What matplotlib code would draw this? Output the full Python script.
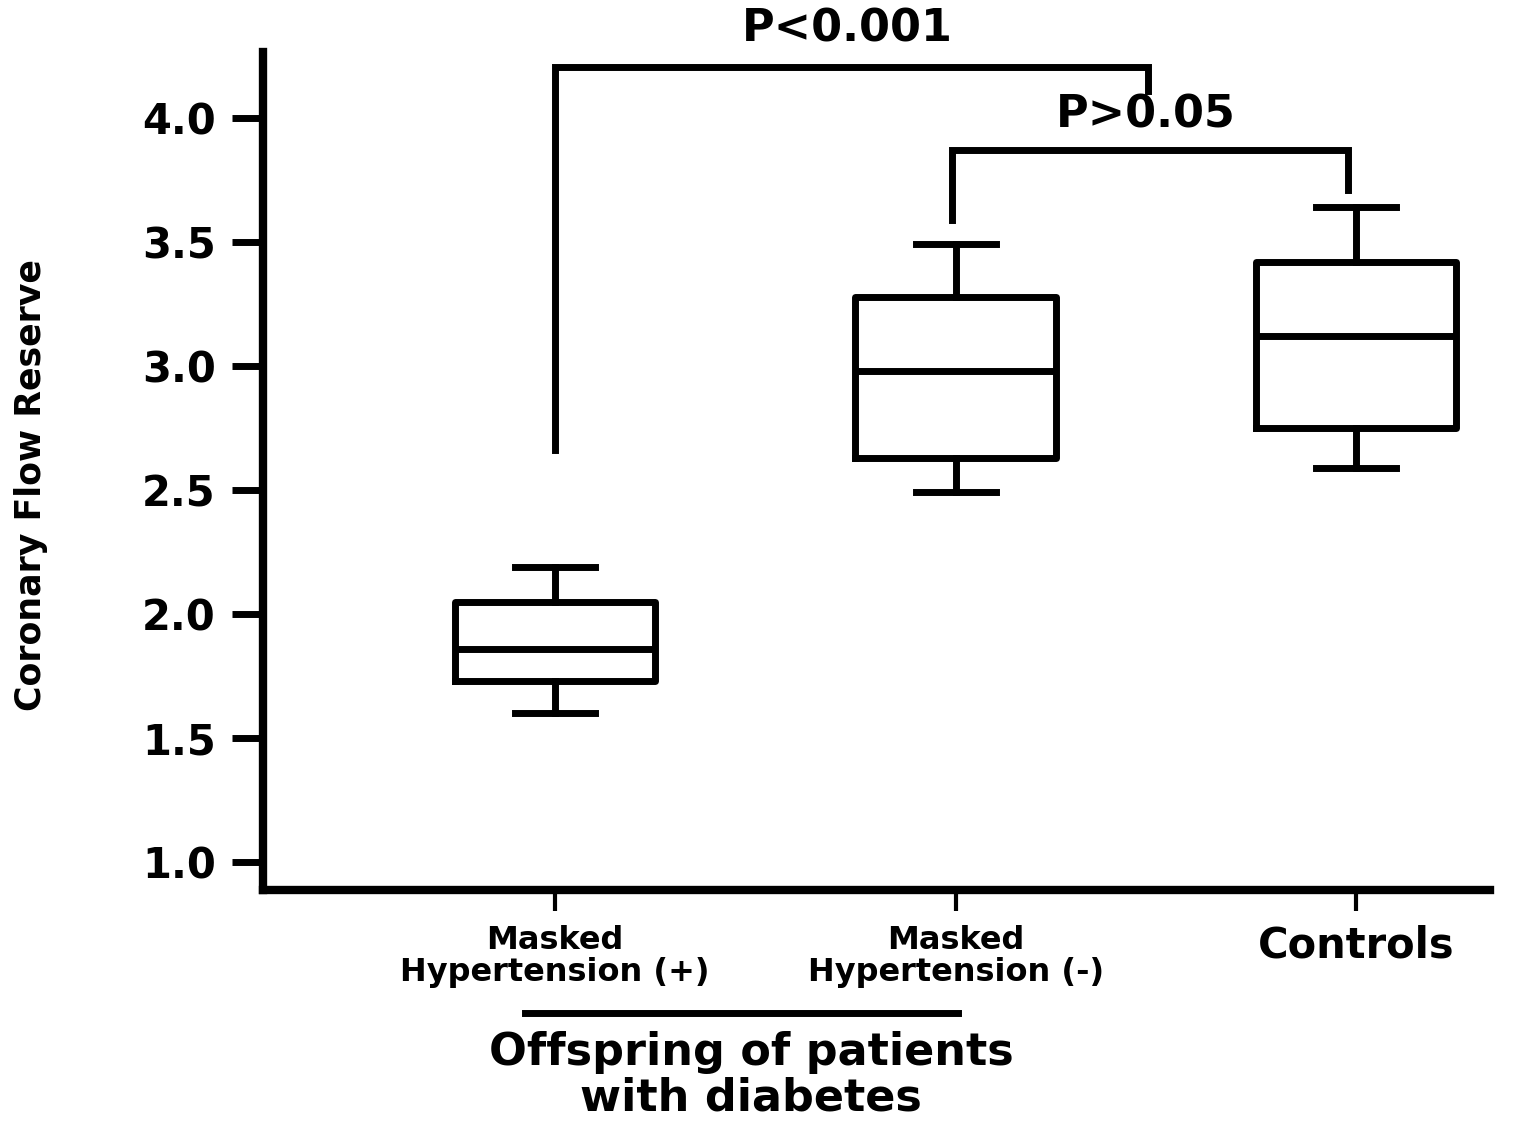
import matplotlib.pyplot as plt
from matplotlib.lines import Line2D
from matplotlib import font_manager

grupos = ["Masked\nHypertension (+)", "Masked\nHypertension (-)", "Controls"]
whis_bajo = [1.60, 2.49, 2.59]
q1 = [1.73, 2.63, 2.75]
mediana = [1.86, 2.98, 3.12]
q3 = [2.05, 3.28, 3.42]
whis_alto = [2.19, 3.49, 3.64]

# brackets de significancia: (x izq, x der, y izq, y tope, y der, texto, x texto, y texto)
brackets = [
    (1.0, 2.48, 2.66, 4.205, 4.11, "P<0.001", 1.73, 4.36),
    (1.99, 2.98, 3.59, 3.87, 3.71, "P>0.05", 2.475, 4.01),
]

disponibles = {f.name for f in font_manager.fontManager.ttflist}
narrow = None
for nombre in ["Liberation Sans Narrow", "DejaVu Sans Condensed"]:
    if nombre in disponibles:
        narrow = nombre
        break

fig = plt.figure(figsize=(15.24, 11.25), dpi=100)
ax = fig.add_axes([263 / 1524, 1 - 890 / 1125, (1490 - 263) / 1524, (890 - 52) / 1125])

stats = []
for i in range(len(grupos)):
    stats.append({"med": mediana[i], "q1": q1[i], "q3": q3[i],
                  "whislo": whis_bajo[i], "whishi": whis_alto[i], "fliers": []})

lw = 5
ax.bxp(stats, positions=[1, 2, 3], widths=0.5, capwidths=0.2, showfliers=False,
       boxprops=dict(color="black", linewidth=lw),
       whiskerprops=dict(color="black", linewidth=lw),
       capprops=dict(color="black", linewidth=lw),
       medianprops=dict(color="black", linewidth=lw))

for x1, x2, y1, ytop, y2, txt, tx, ty in brackets:
    ax.plot([x1, x1, x2, x2], [y1, ytop, ytop, y2], color="black", lw=lw,
            solid_joinstyle="miter", clip_on=False)
    ax.text(tx, ty, txt, ha="center", va="center", fontsize=32, fontweight="bold",
            clip_on=False)

ax.set_xlim(0.27, 3.335)
ax.set_ylim(0.887, 4.266)
ax.set_yticks([1.0, 1.5, 2.0, 2.5, 3.0, 3.5, 4.0])
ax.set_yticklabels(["1.0", "1.5", "2.0", "2.5", "3.0", "3.5", "4.0"],
                   fontsize=30, fontweight="bold")
ax.set_xticks([1, 2, 3])
ax.set_xticklabels(grupos, fontsize=23, fontweight="bold", linespacing=1.05)
ax.get_xticklabels()[2].set_fontsize(30)

for s in ["top", "right"]:
    ax.spines[s].set_visible(False)
for s in ["left", "bottom"]:
    ax.spines[s].set_linewidth(6)
ax.tick_params(axis="y", length=22, width=5, pad=12)
ax.tick_params(axis="x", length=15, width=3, pad=10)

if narrow:
    ax.set_ylabel("Coronary Flow Reserve", fontsize=34, family=[narrow, "DejaVu Sans"])
else:
    ax.set_ylabel("Coronary Flow Reserve", fontsize=25, fontweight="bold")
ax.yaxis.set_label_coords(-0.175, 0.483)

# linea y texto del grupo
trans = ax.get_xaxis_transform()
ax.add_line(Line2D([0.925, 2.005], [-0.147, -0.147], transform=trans, color="black",
                   lw=5, clip_on=False))
ax.text(1.49, -0.221, "Offspring of patients\nwith diabetes", transform=trans,
        ha="center", va="center", fontsize=32, fontweight="bold", linespacing=1.08)

fig.savefig("out.png", dpi=100)
